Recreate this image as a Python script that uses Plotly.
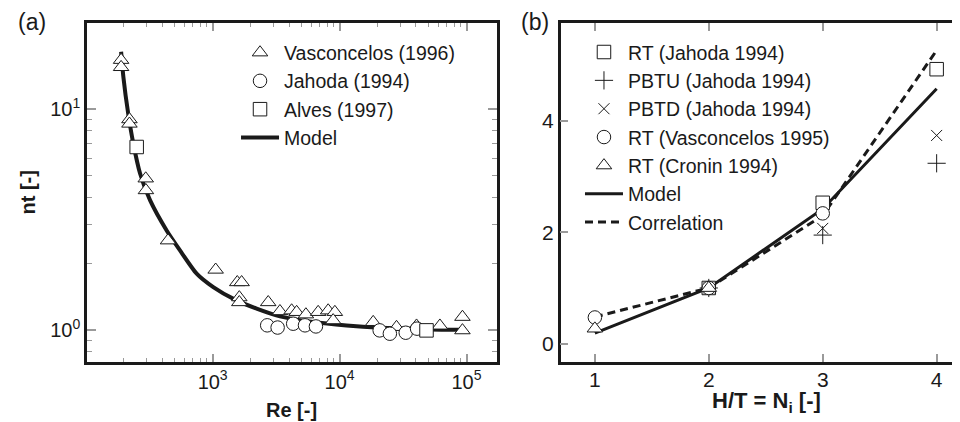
import plotly.graph_objects as go

# ---------------- Panel (a) data ----------------
vasc_re = [190, 190, 221, 221, 297, 298, 445, 1056, 1563, 1692, 1622, 1622, 2740, 3390,
           4190, 4590, 5430, 6780, 8130, 9180, 8900, 18400, 28100, 40400, 61700, 92900, 92900]
vasc_nt = [16.7, 15.5, 9.0, 8.6, 4.86, 4.30, 2.55, 1.88, 1.65, 1.65, 1.41, 1.34, 1.34, 1.22,
           1.23, 1.21, 1.18, 1.21, 1.23, 1.21, 1.11, 1.09, 1.035, 1.05, 1.05, 1.15, 1.0]
jah_re = [2690, 3250, 4310, 5340, 6510, 20700, 24900, 33200, 40800]
jah_nt = [1.054, 1.03, 1.072, 1.054, 1.042, 1.0, 0.966, 0.976, 1.018]
alves_re = [252, 48400]
alves_nt = [6.75, 1.0]
model_re = [190, 198, 216, 237, 268, 321, 434, 553, 748, 1011, 1500, 2220, 3390, 6200,
            11350, 20700, 51400, 92900]
model_nt = [18.2, 14.0, 9.56, 7.0, 5.12, 3.88, 2.83, 2.30, 1.806, 1.57, 1.377, 1.254,
            1.157, 1.09, 1.053, 1.029, 1.01, 1.007]

a_xtick_vals = [1e3, 1e4, 1e5]
a_xtick_text = ["10<sup>3</sup>", "10<sup>4</sup>", "10<sup>5</sup>"]
a_ytick_vals = [1, 10]
a_ytick_text = ["10<sup>0</sup>", "10<sup>1</sup>"]

# ---------------- Panel (b) data ----------------
rtj_x = [2, 3, 4]
rtj_y = [1.0, 2.53, 4.93]
pbtu_x = [2, 3, 4]
pbtu_y = [1.0, 1.95, 3.24]
pbtd_x = [2, 3, 4]
pbtd_y = [1.0, 2.07, 3.74]
rtv_x = [1, 2, 3]
rtv_y = [0.47, 1.0, 2.34]
rtc_x = [1, 2]
rtc_y = [0.27, 1.0]
line_x = [1, 2, 3, 4]
model_b = [0.19, 1.0, 2.42, 4.58]
corr_b = [0.48, 1.0, 2.30, 5.27]

b_xtick_vals = [1, 2, 3, 4]
b_ytick_vals = [0, 2, 4]

INK = "#1a1a1a"
TICK = "#9a9a9a"
FONT = "Liberation Sans, Arial, sans-serif"

fig = go.Figure()

# panel (a)
fig.add_trace(go.Scatter(x=model_re, y=model_nt, mode="lines", name="Model",
                         line=dict(color=INK, width=4, shape="spline", smoothing=0.6),
                         legend="legend", legendrank=4, xaxis="x", yaxis="y"))
mk = dict(color="white", size=13.5, line=dict(color=INK, width=1))
fig.add_trace(go.Scatter(x=vasc_re, y=vasc_nt, mode="markers", name="Vasconcelos (1996)",
                         marker=dict(symbol="triangle-up", **mk), legend="legend", legendrank=1))
fig.add_trace(go.Scatter(x=jah_re, y=jah_nt, mode="markers", name="Jahoda (1994)",
                         marker=dict(symbol="circle", **mk), legend="legend", legendrank=2))
fig.add_trace(go.Scatter(x=alves_re, y=alves_nt, mode="markers", name="Alves (1997)",
                         marker=dict(symbol="square", **mk), legend="legend", legendrank=3))

# panel (b)
fig.add_trace(go.Scatter(x=line_x, y=model_b, mode="lines", name="Model",
                         line=dict(color=INK, width=3), xaxis="x2", yaxis="y2",
                         legend="legend2", legendrank=6))
fig.add_trace(go.Scatter(x=line_x, y=corr_b, mode="lines", name="Correlation",
                         line=dict(color=INK, width=3, dash="8px,5px"), xaxis="x2", yaxis="y2",
                         legend="legend2", legendrank=7))
fig.add_trace(go.Scatter(x=rtj_x, y=rtj_y, mode="markers", name="RT (Jahoda 1994)",
                         marker=dict(symbol="square", **mk), xaxis="x2", yaxis="y2",
                         legend="legend2", legendrank=1))
fig.add_trace(go.Scatter(x=pbtu_x, y=pbtu_y, mode="markers", name="PBTU (Jahoda 1994)",
                         marker=dict(symbol="cross-thin-open", size=13, color=INK, line=dict(color=INK, width=1)),
                         xaxis="x2", yaxis="y2", legend="legend2", legendrank=2))
fig.add_trace(go.Scatter(x=pbtd_x, y=pbtd_y, mode="markers", name="PBTD (Jahoda 1994)",
                         marker=dict(symbol="x-thin-open", size=11, color=INK, line=dict(color=INK, width=1)),
                         xaxis="x2", yaxis="y2", legend="legend2", legendrank=3))
fig.add_trace(go.Scatter(x=rtv_x, y=rtv_y, mode="markers", name="RT (Vasconcelos 1995)",
                         marker=dict(symbol="circle", **mk), xaxis="x2", yaxis="y2",
                         legend="legend2", legendrank=4))
fig.add_trace(go.Scatter(x=rtc_x, y=rtc_y, mode="markers", name="RT (Cronin 1994)",
                         marker=dict(symbol="triangle-up", **mk), xaxis="x2", yaxis="y2",
                         legend="legend2", legendrank=5))

axis_common = dict(showline=True, linecolor=INK, linewidth=2.5, ticks="inside",
                   tickcolor=TICK, tickwidth=1.5, showgrid=False, zeroline=False)

a_xminor = [m * 10 ** e for e in (2, 3, 4) for m in range(2, 10)]
a_yminor = [0.8, 0.9] + list(range(2, 10))

# The page body has an 8px default margin, so the figure is 8px smaller than the window.
fig.update_layout(
    width=952, height=414,
    margin=dict(l=79, r=0, t=15, b=60),
    paper_bgcolor="white", plot_bgcolor="white",
    font=dict(family=FONT, color=INK),
    xaxis=dict(domain=[0, 0.4696], type="log", range=[2.01, 5.24], mirror="allticks",
               tickmode="array", tickvals=a_xtick_vals, ticktext=a_xtick_text, ticklen=8,
               minor=dict(tickmode="array", tickvals=a_xminor, ticks="inside", ticklen=4,
                          tickcolor=TICK, tickwidth=1.2, showgrid=False),
               anchor="y", tickfont=dict(family=FONT, color=INK, size=20), **axis_common),
    yaxis=dict(domain=[0, 1], type="log", range=[-0.143, 1.39], mirror="allticks",
               tickmode="array", tickvals=a_ytick_vals, ticktext=a_ytick_text, ticklen=9,
               minor=dict(tickmode="array", tickvals=a_yminor, ticks="inside", ticklen=5,
                          tickcolor=TICK, tickwidth=1.2, showgrid=False),
               anchor="x", tickfont=dict(family=FONT, color=INK, size=20), **axis_common),
    xaxis2=dict(domain=[0.5426, 1], range=[0.7, 4.205], mirror="allticks",
                tickmode="array", tickvals=b_xtick_vals, ticklen=8, anchor="y2",
                ticklabelstandoff=-3,
                tickfont=dict(family=FONT, color=INK, size=21), **axis_common),
    yaxis2=dict(domain=[0, 1], range=[-0.33, 5.76], mirror=False,
                tickmode="array", tickvals=b_ytick_vals, ticklen=8, anchor="x2",
                tickfont=dict(family=FONT, color=INK, size=21), **axis_common),
    legend=dict(x=0.1707, y=0.9696, xanchor="left", yanchor="top", bgcolor="rgba(0,0,0,0)",
                borderwidth=0, itemwidth=38, font=dict(family=FONT, size=19.5, color=INK),
                traceorder="normal"),
    legend2=dict(x=0.5647, y=0.971, xanchor="left", yanchor="top", bgcolor="rgba(0,0,0,0)",
                 borderwidth=0, itemwidth=38, font=dict(family=FONT, size=19.5, color=INK),
                 traceorder="normal"),
    annotations=[
        dict(text="(a)", x=-0.063, y=1.003, xref="paper", yref="paper", showarrow=False,
             xanchor="center", yanchor="middle", font=dict(family=FONT, size=23, color=INK)),
        dict(text="(b)", x=0.5132, y=1.003, xref="paper", yref="paper", showarrow=False,
             xanchor="center", yanchor="middle", font=dict(family=FONT, size=23, color=INK)),
        dict(text="<b>nt [-]</b>", x=-0.0676, y=0.5, xref="paper", yref="paper", showarrow=False,
             textangle=-90, xanchor="center", yanchor="middle", font=dict(family=FONT, size=20, color=INK)),
        dict(text="<b>Re [-]</b>", x=0.2348, y=-0.141, xref="paper", yref="paper", showarrow=False,
             xanchor="center", yanchor="middle", font=dict(family=FONT, size=20, color=INK)),
        dict(text="<b>H/T = N<sub>i</sub> [-]</b>", x=0.7786, y=-0.118, xref="paper", yref="paper",
             showarrow=False, xanchor="center", yanchor="middle", font=dict(family=FONT, size=22, color=INK)),
    ],
)

fig.write_html("out.html")
